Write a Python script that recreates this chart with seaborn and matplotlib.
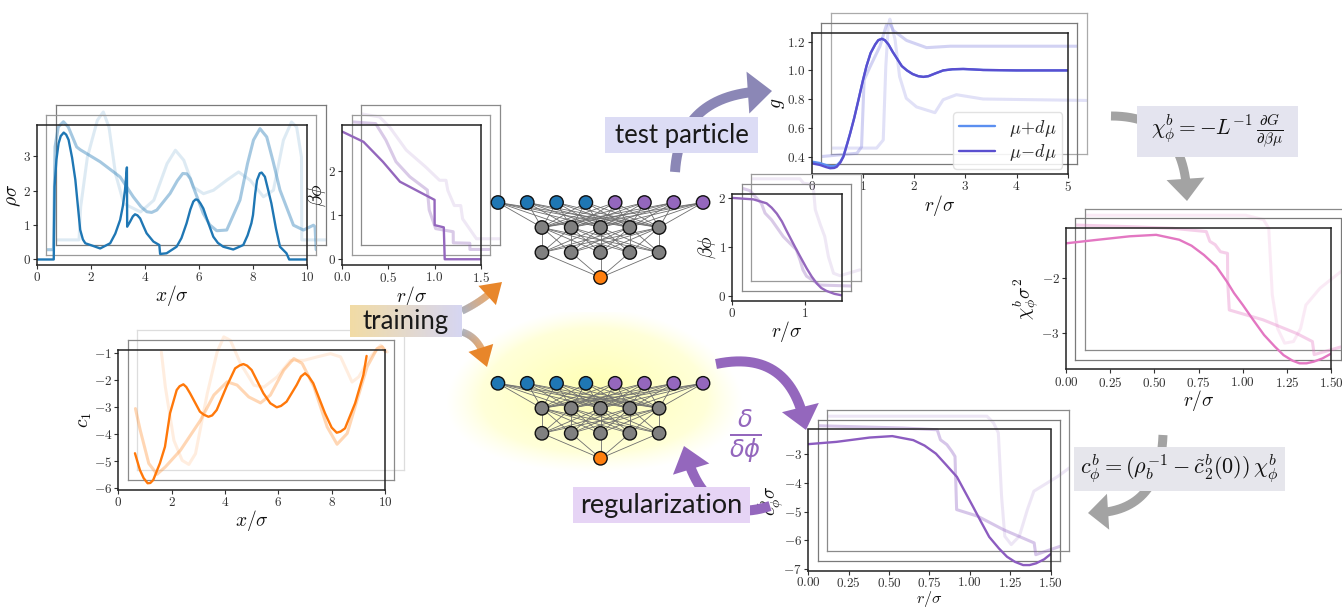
import numpy as np
import matplotlib
matplotlib.use("Agg")
import matplotlib.pyplot as plt
import seaborn as sns
from matplotlib.patches import Circle, Rectangle
from matplotlib.collections import LineCollection
from matplotlib.colors import to_rgb

# ---------------- density profile rho(x) ----------------
rho_x = [0, 0.62, 0.65, 0.72, 0.80, 0.88, 0.99, 1.08, 1.17, 1.30, 1.42, 1.52, 1.60, 1.70, 1.79, 2.09,
         2.34, 2.71, 2.90, 3.08, 3.18, 3.26, 3.33, 3.34, 3.45, 3.55, 3.63, 3.72, 3.82, 3.94, 4.06,
         4.31, 4.53, 4.56, 4.80, 5.17, 5.35, 5.54, 5.68, 5.79, 5.87, 5.95, 6.05, 6.16, 6.35, 6.53,
         6.70, 6.90, 7.27, 7.64, 7.80, 7.94, 8.00, 8.08, 8.15, 8.25, 8.32, 8.44, 8.55, 8.68, 8.85,
         9.00, 9.24, 9.34, 10.0]
rho_y = [0, 0, 2.11, 2.90, 3.37, 3.58, 3.68, 3.62, 3.47, 2.95, 2.31, 1.50, 0.86, 0.58, 0.47, 0.39,
         0.32, 0.47, 0.75, 1.15, 1.55, 2.02, 2.67, 0.95, 1.10, 1.25, 1.31, 1.28, 1.19, 0.97, 0.76,
         0.52, 0.42, 0.16, 0.18, 0.37, 0.62, 1.05, 1.45, 1.68, 1.74, 1.73, 1.63, 1.48, 1.05, 0.66,
         0.48, 0.37, 0.29, 0.42, 0.70, 1.05, 1.29, 1.90, 2.30, 2.50, 2.52, 2.40, 2.05, 1.63, 0.90,
         0.37, 0.18, 0, 0]
rho_b1_x = [0, 0.26, 0.32, 0.44, 0.63, 0.81, 1.12, 1.25, 1.99, 2.73, 3.22, 3.50, 3.72, 3.90, 4.09,
            4.58, 4.85, 5.05, 5.20, 5.33, 5.44, 5.81, 6.05, 6.31, 6.68, 7.17, 7.45, 7.67, 7.91,
            8.16, 8.40, 8.65, 9.15, 9.52, 9.89, 9.95, 9.99, 10]
rho_b1_y = [0, 0, 2.98, 3.56, 3.71, 3.56, 2.98, 2.90, 2.55, 2.11, 1.53, 1.25, 1.10, 1.08, 1.15,
            1.63, 2.00, 2.21, 2.20, 2.06, 1.82, 1.05, 0.72, 0.55, 0.57, 1.44, 2.50, 3.18, 3.51,
            3.27, 2.55, 1.73, 0.71, 0.57, 0.71, 0.66, 0, 0]
rho_b2_x = [0, 0.86, 0.92, 1.17, 1.54, 1.76, 1.97, 2.21, 2.52, 3.14, 3.63, 4.12, 4.43, 4.74, 5.10,
            5.47, 5.84, 6.33, 6.77, 7.20, 7.69, 8.06, 8.43, 8.73, 8.92, 9.10, 9.11, 10]
rho_b2_y = [0, 0, 0.95, 2.40, 3.47, 3.71, 3.27, 1.92, 1.05, 0.81, 1.15, 2.21, 2.60, 2.31, 1.53,
            1.34, 1.44, 1.73, 1.97, 1.73, 1.25, 1.44, 2.89, 3.42, 3.27, 2.40, 0, 0]

# ---------------- external potential beta*phi(r), training set ----------------
bphi_x = [0, 0.23, 0.44, 0.625, 1.0, 1.001, 1.1, 1.11, 1.5]
bphi_y = [2.88, 2.65, 2.20, 1.75, 1.34, 0.77, 0.72, 0, 0]
bphi_b1_x = [0, 0.26, 0.37, 0.48, 0.63, 0.82, 0.84, 0.91, 1.10, 1.101, 1.28, 1.281, 1.49]
bphi_b1_y = [2.88, 2.84, 2.47, 1.98, 1.64, 1.34, 0.89, 0.47, 0.40, 0.15, 0.14, 0, 0]
bphi_b2_x = [0, 0.20, 0.31, 0.49, 0.70, 0.85, 0.92, 0.94, 1.01, 1.08, 1.10, 1.21, 1.25, 1.5]
bphi_b2_y = [2.84, 2.77, 2.54, 2.02, 1.64, 1.34, 1.34, 1.11, 0.77, 0.77, 0.47, 0.14, 0.02, 0.02]

# ---------------- one-body direct correlation c1(x) ----------------
c1_x = [0.625, 0.81, 0.95, 1.10, 1.20, 1.31, 1.56, 1.75, 1.94, 2.19, 2.30, 2.44, 2.55, 2.69, 3.06,
        3.20, 3.38, 3.52, 3.69, 4.06, 4.38, 4.55, 4.69, 4.83, 5.00, 5.44, 5.70, 5.94, 6.10, 6.31,
        6.69, 6.85, 7.00, 7.13, 7.31, 7.75, 8.00, 8.19, 8.33, 8.50, 8.88, 9.19, 9.31]
c1_y = [-4.70, -5.32, -5.62, -5.81, -5.80, -5.69, -5.07, -4.46, -3.22, -2.36, -2.22, -2.15, -2.25,
        -2.48, -3.16, -3.27, -3.35, -3.30, -3.10, -2.23, -1.56, -1.45, -1.40, -1.46, -1.62, -2.48,
        -2.85, -3.00, -2.95, -2.79, -2.17, -1.86, -1.74, -1.85, -2.11, -3.22, -3.75, -3.94, -3.90,
        -3.78, -2.85, -1.80, -1.10]
c1_b1_x = [0.29, 0.47, 0.79, 1.10, 1.41, 1.98, 2.73, 3.23, 3.73, 4.10, 4.54, 4.98, 5.35, 5.85, 6.23,
           6.54, 6.98, 7.48, 7.85, 8.23, 8.60, 8.98, 9.35, 9.54, 9.66]
c1_b1_y = [-3.41, -4.21, -5.44, -5.84, -5.57, -4.95, -3.84, -2.91, -2.42, -2.54, -2.98, -3.20, -2.91,
           -1.99, -1.56, -1.74, -2.60, -4.09, -4.73, -4.33, -3.10, -1.86, -1.19, -1.12, -1.31]
c1_b2_x = [0.91, 1.06, 1.38, 1.69, 1.94, 2.19, 2.63, 3.00, 3.25, 3.50, 3.88, 4.38, 4.75, 5.25, 5.75,
           6.25, 6.75, 7.25, 7.63, 8.06, 8.31, 8.75, 9.13, 9.38]
c1_b2_y = [-1.68, -2.98, -4.95, -5.69, -5.84, -5.44, -3.22, -1.68, -1.12, -1.25, -2.11, -2.91, -2.98,
           -2.60, -1.99, -1.99, -1.86, -1.74, -1.86, -2.79, -2.60, -1.86, -1.43, -1.68]

# ---------------- test-particle pair distribution g(r) ----------------
g_x = [0, 0.16, 0.28, 0.36, 0.44, 0.49, 0.56, 0.62, 0.70, 0.75, 0.83, 0.91, 1.00, 1.07, 1.15, 1.24,
       1.30, 1.37, 1.43, 1.50, 1.58, 1.67, 1.76, 1.86, 1.97, 2.08, 2.18, 2.28, 2.42, 2.57, 2.75,
       2.96, 3.15, 3.35, 4.0, 5.0]
g_plus = [0.366, 0.356, 0.342, 0.335, 0.334, 0.340, 0.366, 0.405, 0.500, 0.562, 0.670, 0.790,
          0.930, 1.030, 1.120, 1.180, 1.210, 1.220, 1.210, 1.180, 1.130, 1.080, 1.030, 1.000,
          0.975, 0.960, 0.955, 0.960, 0.980, 1.000, 1.008, 1.010, 1.007, 1.003, 1.0, 1.0]
g_minus = [0.354, 0.343, 0.328, 0.320, 0.322, 0.330, 0.360, 0.400, 0.497, 0.560, 0.668, 0.790,
           0.930, 1.030, 1.120, 1.180, 1.210, 1.220, 1.210, 1.180, 1.130, 1.080, 1.030, 1.000,
           0.975, 0.960, 0.955, 0.960, 0.980, 1.000, 1.008, 1.010, 1.007, 1.003, 1.0, 1.0]
g_b1_x = [0, 0.70, 0.79, 0.84, 0.96, 1.15, 1.27, 1.32, 1.41, 1.67, 2.06, 2.52, 5.0]
g_b1_y = [0.333, 0.356, 0.40, 0.866, 0.96, 1.10, 1.24, 1.28, 1.21, 1.14, 1.09, 1.10, 1.10]
g_b2_x = [0, 0.90, 1.03, 1.08, 1.13, 1.16, 1.26, 1.35, 1.48, 1.68, 2.04, 2.20, 2.46, 2.98, 5.0]
g_b2_y = [0.324, 0.324, 0.38, 0.89, 1.18, 1.22, 1.08, 0.82, 0.67, 0.61, 0.57, 0.66, 0.695, 0.665, 0.655]

# ---------------- bulk-probe potential beta*phi(r) ----------------
probe_x = [0, 0.29, 0.47, 0.54, 0.61, 0.68, 0.74, 0.81, 0.88, 0.95, 1.02, 1.09, 1.16, 1.22, 1.29,
           1.40, 1.5]
probe_y = [2.0, 1.97, 1.89, 1.80, 1.68, 1.52, 1.34, 1.14, 0.94, 0.75, 0.56, 0.39, 0.25, 0.16, 0.10,
           0.04, 0.01]
probe_b1_x = [0, 0.11, 0.27, 0.32, 0.41, 0.57, 0.75, 0.80, 0.84, 0.89, 1.07, 1.5]
probe_b1_y = [2.0, 1.95, 1.69, 1.49, 1.35, 1.01, 0.74, 0.53, 0.33, 0.20, 0.02, 0.0]
probe_b2_x = [0, 0.67, 0.72, 0.85, 0.88, 0.95, 1.01, 1.06, 1.13, 1.22, 1.49]
probe_b2_y = [1.99, 1.99, 1.90, 1.87, 1.36, 1.05, 0.81, 0.40, 0.06, 0.01, 0.13]

# ---------------- susceptibility chi(r) ----------------
chi_x = [0, 0.17, 0.36, 0.51, 0.64, 0.71, 0.78, 0.85, 0.91, 0.95, 1.00, 1.06, 1.12, 1.18, 1.23,
         1.28, 1.32, 1.36, 1.40, 1.45, 1.50]
chi_y = [-1.356, -1.294, -1.227, -1.20, -1.29, -1.40, -1.57, -1.78, -2.06, -2.27, -2.49, -2.77,
         -3.04, -3.25, -3.41, -3.51, -3.56, -3.56, -3.53, -3.47, -3.38]
chi_b1_x = [0, 0.31, 0.55, 0.74, 0.76, 0.79, 0.82, 0.86, 0.861, 0.87, 1.06, 1.25, 1.34, 1.35, 1.50]
chi_b1_y = [-1.20, -1.23, -1.26, -1.32, -1.50, -1.56, -1.69, -1.72, -2.24, -2.76, -2.94, -3.19,
            -3.34, -3.58, -3.44]
chi_b2_x = [0, 0.63, 0.91, 1.01, 1.04, 1.06, 1.09, 1.13, 1.18, 1.22, 1.25, 1.33, 1.45, 1.50]
chi_b2_y = [-1.20, -1.20, -1.20, -1.28, -1.44, -2.66, -3.28, -3.55, -3.52, -3.28, -2.85, -2.54,
            -2.23, -2.14]

# ---------------- functional derivative c_phi(r) ----------------
cphi_x = [0, 0.175, 0.38, 0.52, 0.65, 0.72, 0.79, 0.85, 0.92, 0.97, 1.02, 1.07, 1.12, 1.18, 1.23,
          1.28, 1.33, 1.37, 1.41, 1.46, 1.50]
cphi_y = [-2.65, -2.57, -2.42, -2.37, -2.51, -2.70, -2.98, -3.35, -3.79, -4.31, -4.83, -5.36, -5.88,
          -6.28, -6.57, -6.75, -6.86, -6.86, -6.80, -6.66, -6.48]
cphi_b1_x = [0, 0.53, 0.74, 0.76, 0.80, 0.83, 0.85, 0.86, 0.99, 1.15, 1.34, 1.35, 1.50]
cphi_b1_y = [-2.35, -2.43, -2.49, -2.84, -3.01, -3.24, -3.42, -5.27, -5.50, -5.97, -6.43, -6.84, -6.55]
cphi_b2_x = [0, 0.99, 1.03, 1.06, 1.08, 1.10, 1.14, 1.19, 1.24, 1.28, 1.43, 1.50]
cphi_b2_y = [-2.36, -2.36, -2.59, -2.94, -5.14, -6.54, -6.83, -6.54, -5.61, -4.97, -4.45, -4.16]

# ---------------- network layout ----------------
layer_sizes = [8, 5, 5, 1]

BLUE, PURPLE, ORANGE, PINK = "#1f77b4", "#9467bd", "#ff7f0e", "#e377c2"

sns.set_style("ticks")
plt.rcParams.update({
    "font.family": "serif",
    "font.serif": ["cmr10"],
    "mathtext.fontset": "cm",
    "axes.formatter.use_mathtext": True,
    "axes.unicode_minus": True,
})

W, H = 1342, 608
fig = plt.figure(figsize=(W / 100, H / 100), dpi=100)


def px_axes(left, top, w, h):
    return fig.add_axes([left / W, 1 - (top + h) / H, w / W, h / H])


STEP = (9.4, 9.8)


def stacked_panel(rect, xlim, ylim, mains, backs, back_color, back_alpha=(0.4, 0.16),
                  frame_cols=("#8a8a8a", "#8a8a8a"), xticks=None, yticks=None,
                  xlabel="", ylabel=""):
    left, top, w, h = rect
    for k in (2, 1):
        ax = px_axes(left + k * STEP[0], top - k * STEP[1], w, h)
        ax.set_facecolor("none")
        bx, by = backs[k - 1]
        sns.lineplot(x=bx, y=by, ax=ax, color=back_color, alpha=back_alpha[k - 1], lw=2.2,
                     sort=False, estimator=None)
        ax.set_xlim(xlim)
        ax.set_ylim(ylim)
        ax.set_xticks([])
        ax.set_yticks([])
        for s in ax.spines.values():
            s.set_visible(True)
            s.set_color(frame_cols[k - 1])
            s.set_linewidth(0.9)
    ax = px_axes(left, top, w, h)
    ax.set_facecolor("none")
    for mx, my, col, lab in mains:
        sns.lineplot(x=mx, y=my, ax=ax, color=col, lw=1.7, sort=False, estimator=None, label=lab)
    ax.set_xlim(xlim)
    ax.set_ylim(ylim)
    if xticks is not None:
        ax.set_xticks(xticks)
    if yticks is not None:
        ax.set_yticks(yticks)
    for s in ax.spines.values():
        s.set_visible(True)
        s.set_color("#222222")
        s.set_linewidth(1.1)
    ax.tick_params(direction="out", length=3, width=0.8, pad=1.5, labelsize=9.5,
                   colors="#333333")
    ax.set_xlabel(xlabel, fontsize=14, labelpad=-1, color="#111111")
    ax.set_ylabel(ylabel, fontsize=14, labelpad=0, color="#111111")
    return ax


# density profile
stacked_panel((37, 125, 270, 140), (0, 10), (-0.16, 3.9),
              [(rho_x, rho_y, BLUE, None)],
              [(rho_b1_x, rho_b1_y), (rho_b2_x, rho_b2_y)], BLUE,
              back_alpha=(0.4, 0.15), frame_cols=("#9a9a9a", "#7a7a7a"),
              xticks=[0, 2, 4, 6, 8, 10], yticks=[0, 1, 2, 3],
              xlabel=r"$x/\sigma$", ylabel=r"$\rho\sigma$")

# training potential
stacked_panel((342.3, 125, 138.4, 140), (0, 1.5), (-0.13, 3.03),
              [(bphi_x, bphi_y, PURPLE, None)],
              [(bphi_b1_x, bphi_b1_y), (bphi_b2_x, bphi_b2_y)], PURPLE,
              back_alpha=(0.35, 0.15), frame_cols=("#9a9a9a", "#8a8a8a"),
              xticks=[0, 0.5, 1.0, 1.5], yticks=[0, 1, 2],
              xlabel=r"$r/\sigma$", ylabel=r"$\beta\phi$")

# one-body direct correlation
stacked_panel((118.3, 350, 266.7, 140), (0, 10), (-6.06, -0.88),
              [(c1_x, c1_y, "#ff780a", None)],
              [(c1_b1_x, c1_b1_y), (c1_b2_x, c1_b2_y)], "#ff8c2a",
              back_alpha=(0.35, 0.15), frame_cols=("#8a8a8a", "#dddddd"),
              xticks=[0, 2, 4, 6, 8, 10], yticks=[-1, -2, -3, -4, -5, -6],
              xlabel=r"$x/\sigma$", ylabel=r"$c_1$")

# test-particle g(r)
axg = stacked_panel((811.7, 33, 256, 141), (0, 5), (0.28, 1.26),
                    [(g_x, g_plus, "#5b8ff0", r"$\mu\!+\!d\mu$"),
                     (g_x, g_minus, "#5a4fcf", r"$\mu\!-\!d\mu$")],
                    [(g_b1_x, g_b1_y), (g_b2_x, g_b2_y)], "#6a6ad8",
                    back_alpha=(0.3, 0.2), frame_cols=("#7a7a7a", "#aaaaaa"),
                    xticks=[0, 1, 2, 3, 4, 5], yticks=[0.4, 0.6, 0.8, 1.0, 1.2],
                    xlabel=r"$r/\sigma$", ylabel=r"$g$")
axg.legend(loc="lower right", fontsize=13, frameon=True, framealpha=0.85, edgecolor="#dddddd",
           handlelength=2.0, borderpad=0.3, labelspacing=0.2, borderaxespad=0.3)

# bulk probe potential
stacked_panel((732.3, 194, 109.4, 106.7), (0, 1.5), (-0.10, 2.08),
              [(probe_x, probe_y, PURPLE, None)],
              [(probe_b1_x, probe_b1_y), (probe_b2_x, probe_b2_y)], PURPLE,
              back_alpha=(0.35, 0.15), frame_cols=("#8a8a8a", "#9a9a9a"),
              xticks=[0, 1], yticks=[0, 1, 2],
              xlabel=r"$r/\sigma$", ylabel=r"$\beta\phi$")

# susceptibility
stacked_panel((1066, 228.3, 265.3, 141), (0, 1.5), (-3.67, -1.08),
              [(chi_x, chi_y, PINK, None)],
              [(chi_b1_x, chi_b1_y), (chi_b2_x, chi_b2_y)], PINK,
              back_alpha=(0.35, 0.15), frame_cols=("#7a7a7a", "#8a8a8a"),
              xticks=[0, 0.25, 0.5, 0.75, 1.0, 1.25, 1.5], yticks=[-2, -3],
              xlabel=r"$r/\sigma$", ylabel=r"$\chi^b_\phi\sigma^2$")

# functional derivative
axc = stacked_panel((808.3, 429.5, 242.3, 141.3), (0, 1.5), (-7.06, -2.14),
                    [(cphi_x, cphi_y, "#8c5cc0", None)],
                    [(cphi_b1_x, cphi_b1_y), (cphi_b2_x, cphi_b2_y)], "#8c5cc0",
                    back_alpha=(0.35, 0.15), frame_cols=("#7a7a7a", "#8a8a8a"),
                    xticks=[0, 0.25, 0.5, 0.75, 1.0, 1.25, 1.5], yticks=[-3, -4, -5, -6, -7],
                    xlabel=r"$r/\sigma$", ylabel=r"$c^b_\phi\sigma$")
axc.tick_params(axis="x", pad=0.5)
axc.xaxis.label.set_fontsize(11.5)
axc.xaxis.set_label_coords(0.5, -0.128)
axc.yaxis.set_label_coords(-0.092, 0.5)

# ---------------- schematic overlay (pixel coordinates) ----------------
ov = fig.add_axes([0, 0, 1, 1])
ov.set_facecolor("none")
ov.axis("off")

# soft glow behind the lower network
gx, gy = np.meshgrid(np.linspace(-1.15, 1.15, 300), np.linspace(-1.15, 1.15, 180))
gr = np.hypot(gx, gy + 0.15 * (1 - gx ** 2).clip(0))
glow = np.zeros(gr.shape + (4,))
glow[..., 0] = 1.0
glow[..., 1] = 1.0
glow[..., 2] = np.clip(0.6 + 0.25 * gr, 0, 1)
glow[..., 3] = 0.75 * np.clip((1.05 - gr) / 0.25, 0, 1)
ov.imshow(glow, extent=(594 - 141 * 1.15, 594 + 141 * 1.15, 402 + 78 * 1.15, 402 - 78 * 1.15),
          aspect="auto", interpolation="bilinear", zorder=1)


def draw_net(y0, xc=600.5, dx=29.3, dy=25.0, r=6.7):
    cols = [[BLUE] * 4 + [PURPLE] * 4, ["#808080"] * 5, ["#808080"] * 5, [ORANGE]]
    pos = [[(xc + (i - (n - 1) / 2) * dx, y0 + L * dy) for i in range(n)]
           for L, n in enumerate(layer_sizes)]
    for a, b in zip(pos[:-1], pos[1:]):
        for p in a:
            for q in b:
                ov.plot([p[0], q[0]], [p[1], q[1]], color="#6e6e6e", lw=0.6, zorder=2)
    for L, layer in enumerate(pos):
        for (x, y), c in zip(layer, cols[L]):
            ov.add_patch(Circle((x, y), r, fc=c, ec="#111111", lw=1.0, zorder=3))


draw_net(202.5)
draw_net(383.3)


def bez_arrow(p0, pc, tip, width, head_w, head_l, color, color2=None, z=4):
    p0, pc, tip = (np.asarray(v, float) for v in (p0, pc, tip))
    t = np.linspace(0, 1, 500)[:, None]
    P = (1 - t) ** 2 * p0 + 2 * (1 - t) * t * pc + t ** 2 * tip
    d = np.hypot(*(P - tip).T)
    body = P[d >= head_l - 1.5]
    base = P[d >= head_l][-1]
    u = (tip - base) / np.linalg.norm(tip - base)
    n = np.array([-u[1], u[0]])
    head = np.array([base + n * head_w / 2, tip, base - n * head_w / 2])
    lw = width * 0.72
    if color2 is None:
        ov.plot(body[:, 0], body[:, 1], color=color, lw=lw, solid_capstyle="butt", zorder=z)
        ov.fill(head[:, 0], head[:, 1], color=color, lw=0, zorder=z)
    else:
        segs = np.stack([body[:-1], body[1:]], axis=1)
        f = np.linspace(0, 1, len(segs))[:, None]
        c1, c2 = np.array(to_rgb(color)), np.array(to_rgb(color2))
        ov.add_collection(LineCollection(segs, colors=(1 - f) * c1 + f * c2, linewidths=lw,
                                         capstyle="butt", zorder=z))
        ov.fill(head[:, 0], head[:, 1], color=color2, lw=0, zorder=z)


# arrows
bez_arrow((675, 172), (680, 91), (772, 91), 10, 42, 24, "#8b87b6")
bez_arrow((1111, 116), (1187, 116), (1187, 201), 9, 38, 22, "#a3a3a3")
bez_arrow((1163, 435), (1160, 515), (1088, 513), 9, 36, 20, "#a3a3a3")
bez_arrow((716, 364), (792, 348), (806, 430), 10, 38, 23, PURPLE)
bez_arrow((770, 506), (703, 528), (684, 446), 10, 38, 24, PURPLE)
bez_arrow((462, 311), (485, 300), (502, 282), 7, 26, 20, "#8a90a2", "#e8862a")
bez_arrow((462, 332), (482, 338), (487, 367), 7, 26, 20, "#8a90a2", "#e8862a")

# labelled boxes
SANS = "Lato"
ov.add_patch(Rectangle((605, 117), 153, 36, fc="#dcdcf5", ec="none", zorder=5))
ov.text(681.5, 135, "test particle", ha="center", va="center", fontsize=18.5, family=SANS,
        color="#1a1a1a", zorder=6)

grad = np.linspace(0, 1, 256)[None, :, None]
train_img = (1 - grad) * np.array(to_rgb("#f2dca5")) + grad * np.array(to_rgb("#d6d6f2"))
ov.imshow(train_img, extent=(350, 462, 337, 305), aspect="auto", zorder=5)
ov.text(406, 321, "training", ha="center", va="center", fontsize=18.5, family=SANS,
        color="#1a1a1a", zorder=6)

ov.add_patch(Rectangle((573, 487), 177, 36, fc="#e6d4f5", ec="none", zorder=5))
ov.text(661.5, 505, "regularization", ha="center", va="center", fontsize=19.5, family=SANS,
        color="#1a1a1a", zorder=6)

ov.add_patch(Rectangle((1137, 106), 161, 51, fc="#e4e4ef", ec="none", zorder=5))
ov.text(1217.5, 131.5, r"$\chi^b_\phi = -L^{-1}\,\frac{\partial G}{\partial \beta\mu}$",
        ha="center", va="center", fontsize=15.5, color="#111111", zorder=6)

ov.add_patch(Rectangle((1074, 447), 211, 44, fc="#e6e6ec", ec="none", zorder=5))
ov.text(1179.5, 469, r"$c^b_\phi = (\rho_b^{-1} - \tilde{c}^b_2(0))\,\chi^b_\phi$",
        ha="center", va="center", fontsize=16, color="#111111", zorder=6)

ov.text(745, 436, r"$\frac{\delta}{\delta\phi}$", ha="center", va="center", fontsize=25,
        color=PURPLE, math_fontfamily="dejavusans", zorder=6)

ov.set_xlim(0, W)
ov.set_ylim(H, 0)

fig.savefig("out.png", dpi=100)
